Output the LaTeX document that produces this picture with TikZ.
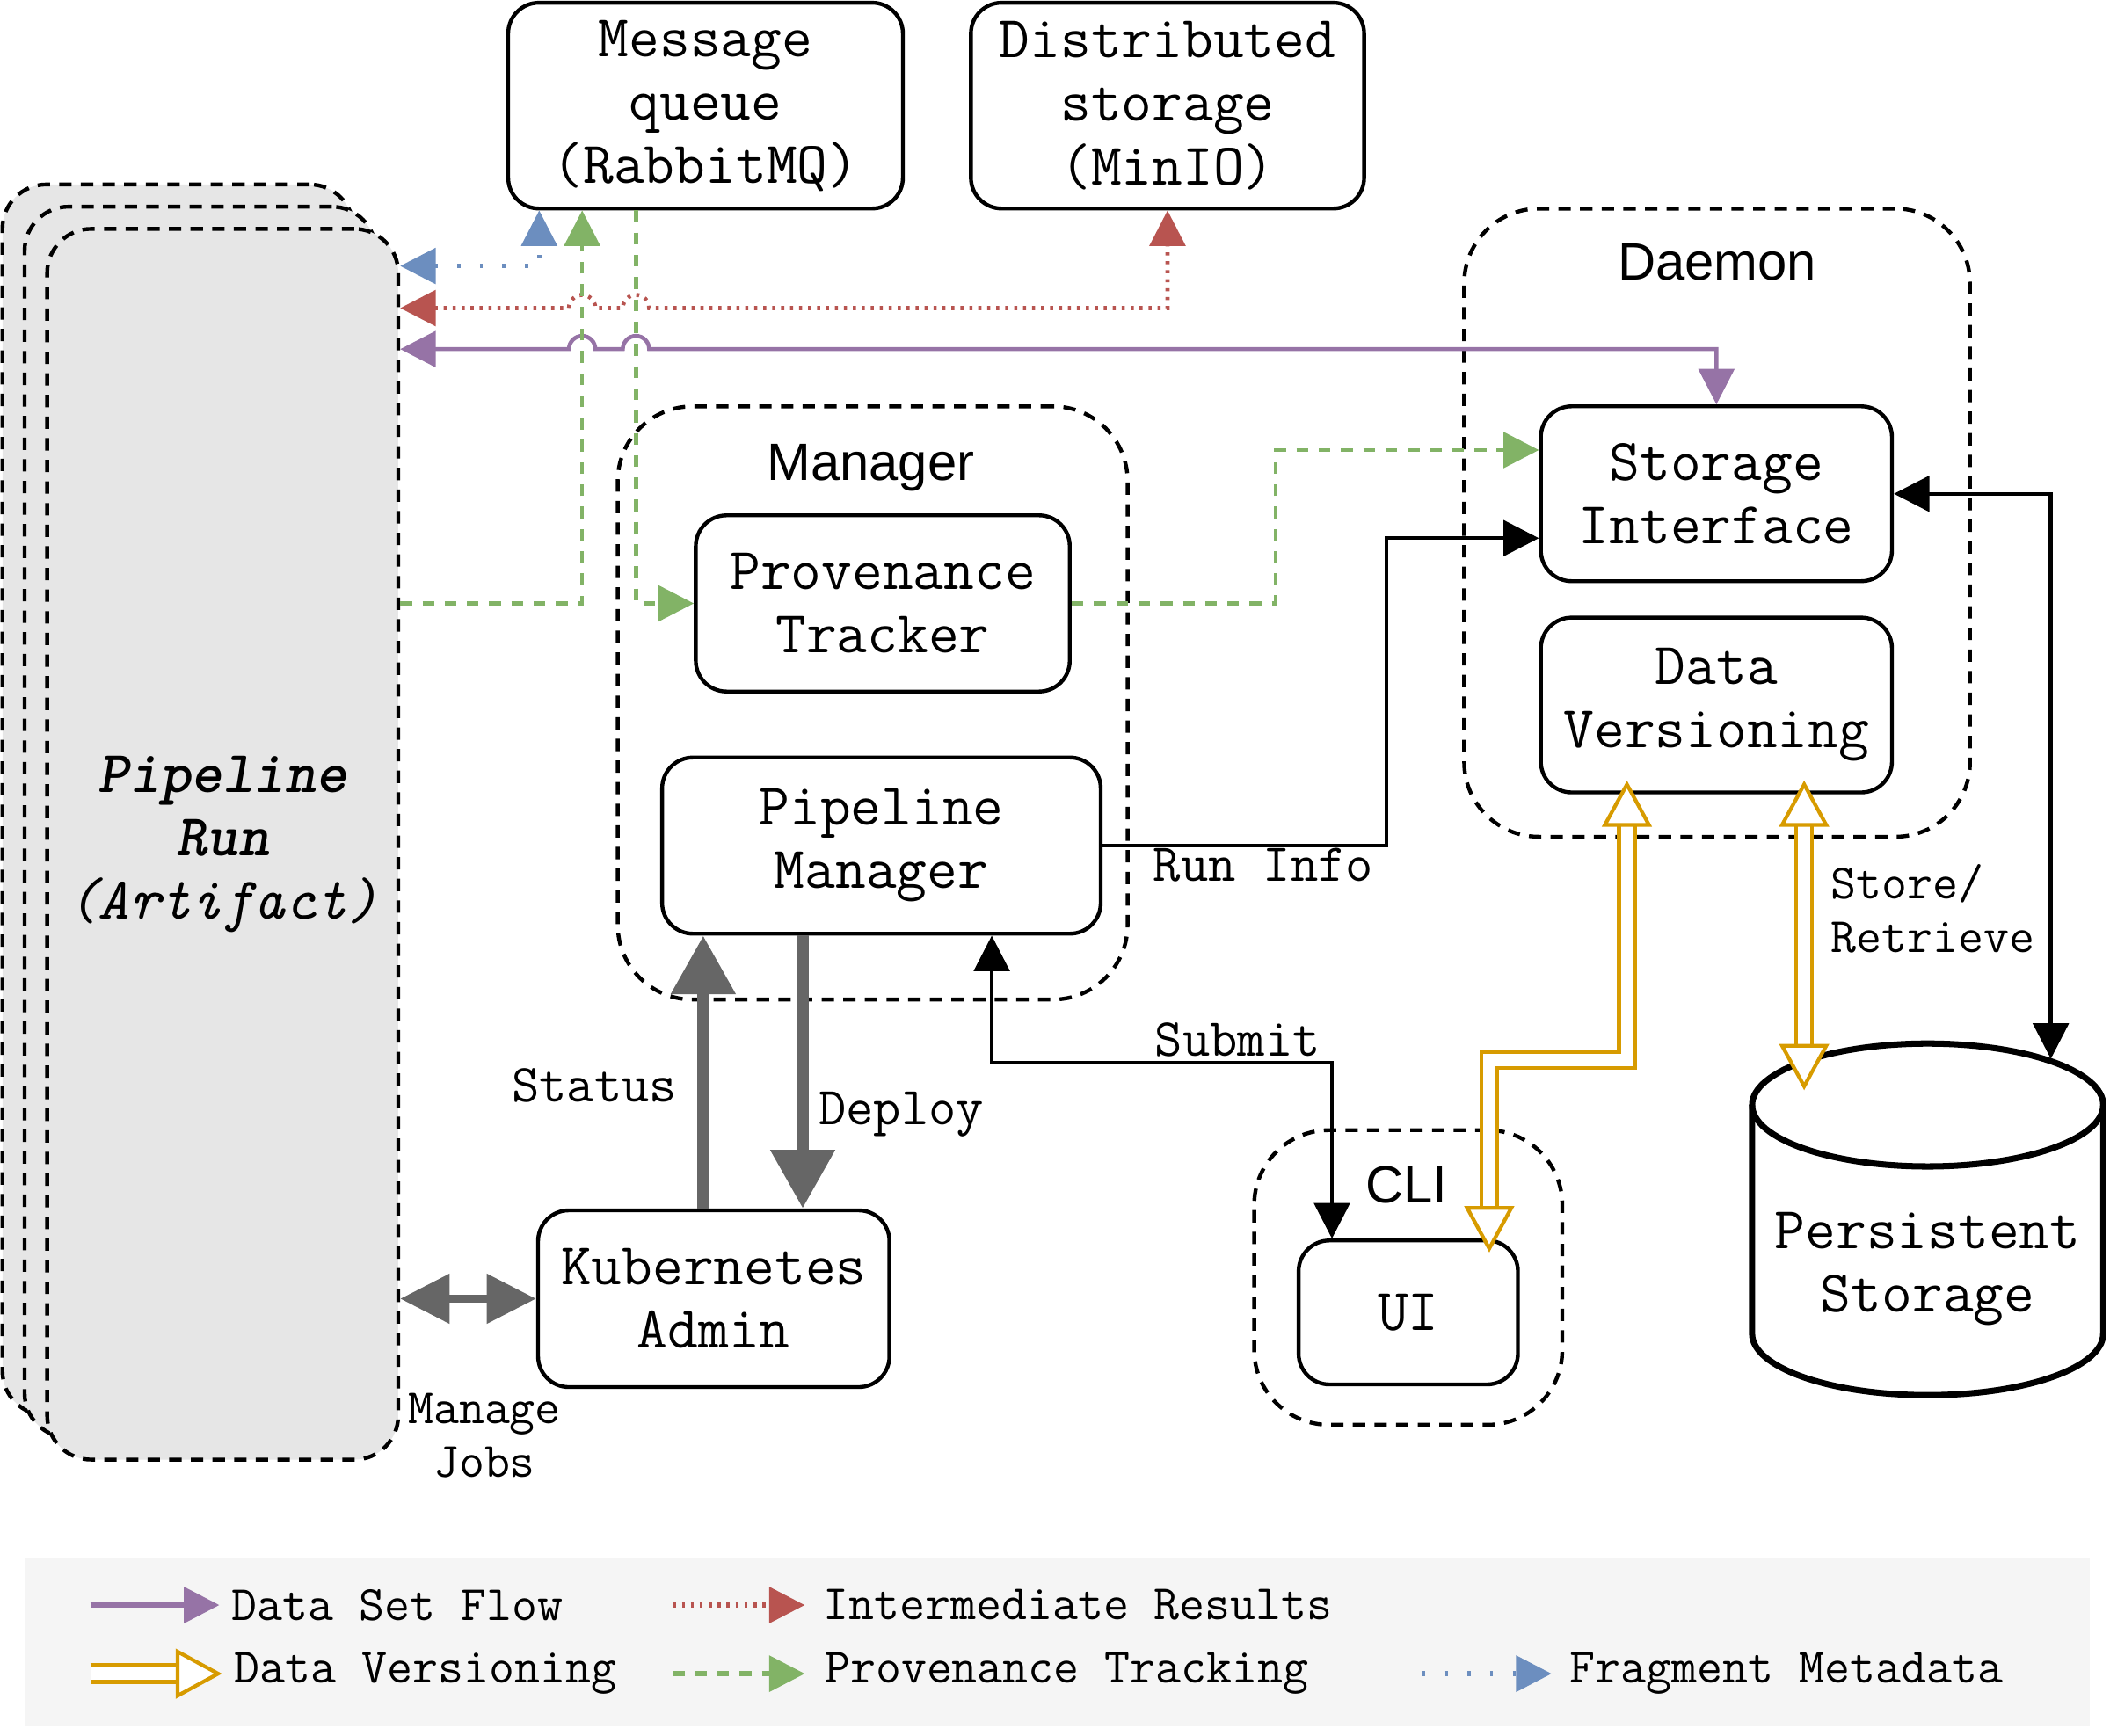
\documentclass[tikz,border=0pt]{standalone}
\usepackage{fontspec}
\setsansfont{Liberation Sans}
\usepackage{tikz}
\usetikzlibrary{positioning}
\usetikzlibrary{arrows.meta, calc}

\definecolor{flowpurple}{HTML}{9673A6}
\definecolor{resultred}{HTML}{B85450}
\definecolor{provgreen}{HTML}{82B366}
\definecolor{metablue}{HTML}{6C8EBF}
\definecolor{versorange}{HTML}{D79B00}
\definecolor{admingray}{HTML}{666666}
\definecolor{runfill}{HTML}{E6E6E6}
\definecolor{legendbg}{HTML}{F5F5F5}

\newcommand{\boxtt}{\ttfamily\fontsize{19.2}{20.5}\selectfont}
\newcommand{\edgett}{\ttfamily\fontsize{17.3}{20}\selectfont}
\newcommand{\smalltt}{\ttfamily\fontsize{16}{17.2}\selectfont}
\newcommand{\grpsf}{\sffamily\fontsize{17}{20}\selectfont}

\tikzset{
    comp/.style={draw, line width=1.25pt, rounded corners=0.35cm, fill=white, align=center, font=\boxtt, inner sep=0pt},
    grp/.style={draw, line width=1.25pt, dash pattern=on 4pt off 3pt, rounded corners=0.85cm, inner sep=0pt},
    run/.style={grp, fill=runfill, rounded corners=0.5cm, align=center, font={\boxtt\itshape}, minimum width=3.993cm, minimum height=14cm},
    grplbl/.style={font=\grpsf, inner sep=0pt, anchor=base},
    elbl/.style={font=\edgett, inner sep=0pt, anchor=base west},
    slbl/.style={font=\smalltt, inner sep=0pt, align=left},
    lgtxt/.style={font=\smalltt, inner sep=0pt, outer sep=4pt, anchor=west},
    tri/.tip={Triangle[length=11.5pt, width=11.5pt]},
    bigtri/.tip={Triangle[length=19pt, width=20pt]},
    midtri/.tip={Triangle[length=16pt, width=15.5pt]},
    opentri/.tip={Triangle[length=15pt, width=16pt, fill=white, line width=1.2pt]},
    dsline/.style={draw=flowpurple, line width=1.3pt},
    resline/.style={draw=resultred, line width=1.3pt, dash pattern=on 1pt off 1.9pt},
    provline/.style={draw=provgreen, line width=1.3pt, dash pattern=on 3.8pt off 3.4pt},
    metaline/.style={draw=metablue, line width=1.3pt, dash pattern=on 1pt off 6.3pt},
    versline/.style={draw=versorange, line width=1.2pt, double=white, double distance=4pt},
    ctrl/.style={draw, line width=1.25pt},
    k8sline/.style={draw=admingray, line width=4pt},
    disk/.style={draw, line width=2pt}
}

\begin{document}
\begin{tikzpicture}[x=0.0153cm, y=-0.0153cm]
        \useasboundingbox (0,0) rectangle (1568,1290.3);

        \begin{scope}
            \node[run] (prback) at (132.25,594.5) {};
            \node[run] (prmid) at (148.75,611) {};
            \node[run] (pr) at (165.5,627.5) {\textbf{Pipeline}\\\textbf{Run}\\(Artifact)};
        \end{scope}

        \begin{scope}
            \node[comp, minimum width=4.489cm, minimum height=2.341cm] (mq) at (524.3,78.5) {Message\\queue\\(RabbitMQ)};
            \node[comp, minimum width=4.472cm, minimum height=2.341cm] (ds) at (867.6,78.5) {Distributed\\storage\\(MinIO)};
        \end{scope}

        \begin{scope}
            \node[grp, minimum width=5.799cm, minimum height=6.747cm] (mgrgrp) at (648.5,522.5) {};
            \node[grplbl] (mgrlbl) at (647,357) {Manager};
            \node[comp, minimum width=4.253cm, minimum height=2.004cm] (prov) at (656,448.5) {Provenance\\Tracker};
            \node[comp, minimum width=4.988cm, minimum height=2.004cm] (pm) at (655,628.5) {Pipeline\\Manager};
        \end{scope}

        \begin{scope}
            \node[grp, minimum width=5.753cm, minimum height=7.145cm] (dmngrp) at (1276,388.5) {};
            \node[grplbl] (dmnlbl) at (1276,208) {Daemon};
            \node[comp, minimum width=3.993cm, minimum height=1.989cm] (si) at (1275.5,367) {Storage\\Interface};
            \node[comp, minimum width=3.993cm, minimum height=1.989cm] (dv) at (1275.5,524) {Data\\Versioning};
        \end{scope}

        \begin{scope}
            \node[grp, minimum width=3.504cm, minimum height=3.351cm] (cligrp) at (1046.5,949.5) {};
            \node[grplbl] (clilbl) at (1045,894) {CLI};
            \node[comp, minimum width=2.494cm, minimum height=1.637cm] (ui) at (1046.5,975.5) {UI};
        \end{scope}

        \node[comp, minimum width=3.996cm, minimum height=2.01cm] (k8s) at (530.4,965.3) {Kubernetes\\Admin};

        \begin{scope}
            \fill[white] (1302,821.3) -- (1302,991.3) arc[start angle=180, end angle=360, x radius=1.9967cm, y radius=0.699cm] -- (1563,821.3) arc[start angle=0, end angle=180, x radius=1.9967cm, y radius=0.699cm] -- cycle;
            \draw[disk] (1302,821.3) -- (1302,991.3) arc[start angle=180, end angle=360, x radius=1.9967cm, y radius=0.699cm] -- (1563,821.3);
            \draw[disk] (1432.5,821.3) ellipse [x radius=1.9967cm, y radius=0.699cm];
            \node[font=\boxtt, align=center, inner sep=0pt] (ps) at (1432.5,943) {Persistent\\Storage};
            \coordinate (pstop) at (1524,787);
            \coordinate (psver) at (1340.7,800);
        \end{scope}

        \draw[metaline, {tri}-{tri}] (pr.east |- 0,197.7) -| (400.7,0 |- mq.south);
        \draw[resline, {tri}-{tri}] (pr.east |- 0,229) -- (422.8,229) arc[start angle=180, end angle=0, radius=0.15cm] -- (462.8,229) arc[start angle=180, end angle=0, radius=0.15cm] -| (ds.south);
        \draw[dsline, {tri}-{tri}] (pr.east |- 0,259.5) -- (422.8,259.5) arc[start angle=180, end angle=0, radius=0.15cm] -- (462.8,259.5) arc[start angle=180, end angle=0, radius=0.15cm] -| (si.north);

        \draw[provline, -{tri}] (pr.east |- 0,448.5) -| (432.6,0 |- mq.south);
        \draw[provline, -{tri}] (472.6,0 |- mq.south) |- (prov.west);
        \draw[provline, -{tri}] (prov.east) -- (948,0 |- prov.east) |- (si.west |- 0,334.5);

        \draw[ctrl, -{tri}] (pm.east) -- (1030.4,0 |- pm.east) |- (si.west |- 0,400);
        \node[elbl] (runinfo) at (856.5,655) {Run Info};
        \draw[ctrl, {tri}-{tri}] (si.east) -| (pstop);
        \draw[ctrl, {tri}-{tri}] (737,0 |- pm.south) |- (989.8,790) -- (989.8,0 |- ui.north);
        \node[elbl] (submit) at (858,785) {Submit};

        \draw[k8sline, -{bigtri}] (522.6,0 |- k8s.north) -- (522.6,0 |- pm.south);
        \draw[k8sline, -{bigtri}] (596.5,0 |- pm.south) -- (596.5,0 |- k8s.north);
        \node[elbl] (status) at (380,819) {Status};
        \node[elbl] (deploy) at (608,835.6) {Deploy};
        \draw[k8sline, line width=2.8pt, {midtri}-{midtri}] (pr.east |- k8s.west) -- (k8s.west);
        \node[slbl, align=center] (jobs) at (360,1067) {Manage\\Jobs};

        \draw[versline, shorten <=-4.5pt, shorten >=-4.5pt, {opentri}-{opentri}] (1209,0 |- dv.south) |- (1106.7,788) -- (1106.7,0 |- ui.north);
        \draw[versline, shorten <=-4.5pt, shorten >=-4.5pt, {opentri}-{opentri}] (1340.7,0 |- dv.south) -- (psver);
        \node[slbl, anchor=west] (storeret) at (1360,675.5) {Store/\\Retrieve};

        \begin{scope}
            \fill[legendbg] (18,1158) rectangle (1553,1283);
            \coordinate (lgflowS) at (67,1193);
            \coordinate (lgresS) at (500,1193);
            \coordinate (lgverS) at (67,1244);
            \coordinate (lgprovS) at (500,1244);
            \coordinate (lgmetaS) at (1057,1244);
            \node[lgtxt] (lgflow) at (163,1193) {Data Set Flow};
            \node[lgtxt, outer sep=6pt] (lgres) at (598,1193) {Intermediate Results};
            \node[lgtxt] (lgver) at (165,1244) {Data Versioning};
            \node[lgtxt, outer sep=6.5pt] (lgprov) at (598,1244) {Provenance Tracking};
            \node[lgtxt, outer sep=6pt] (lgmeta) at (1153,1244) {Fragment Metadata};
            \draw[dsline, line width=1.6pt, -{tri}] (lgflowS) -- (lgflow);
            \draw[resline, line width=1.5pt, -{tri}] (lgresS) -- (lgres);
            \draw[versline, line width=1.5pt, -{opentri}] (lgverS) -- (lgver);
            \draw[provline, line width=1.5pt, -{tri}] (lgprovS) -- (lgprov);
            \draw[metaline, line width=1.5pt, -{tri}] (lgmetaS) -- (lgmeta);
        \end{scope}
    \end{tikzpicture}
\end{document}
